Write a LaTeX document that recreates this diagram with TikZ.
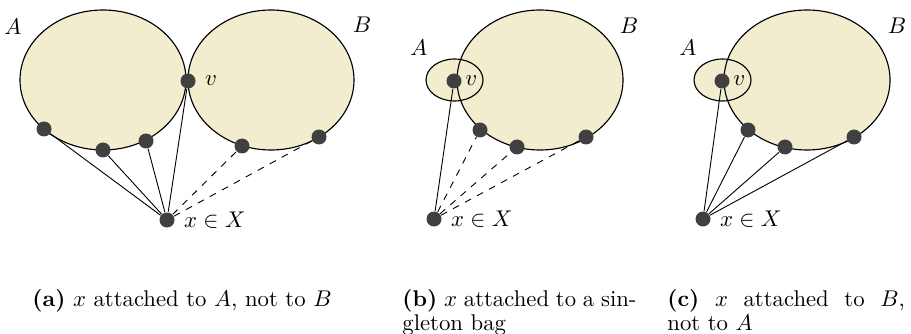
\documentclass[tikz,border=0pt]{standalone}
\usepackage{amsmath,amssymb}
\usetikzlibrary{positioning}
\definecolor{bagfill}{HTML}{F2EDCF}
\definecolor{dotgray}{HTML}{404040}

\begin{document}
\begin{tikzpicture}[x=0.44pt, y=-0.44pt,
  bagline/.style={draw=black, line width=0.5pt},
  vtx/.style={circle, fill=dotgray, inner sep=0pt, minimum size=6.6pt},
  miss/.style={dashed},
  capbox/.style={anchor=north west, inner sep=0pt, align=justify,
    font=\fontsize{10}{10.6}\selectfont}]

\useasboundingbox (0,0) rectangle (911,334);

% --- (a): x attached to A only ---
\coordinate (Aa) at (103,80);
\coordinate (Ba) at (271,80);
\fill[bagfill] (Aa) ellipse (83 and 70);
\fill[bagfill] (Ba) ellipse (83 and 70);
\draw[bagline] (Aa) ellipse (83 and 70);
\draw[bagline] (Ba) ellipse (83 and 70);
\node at (13,27) {$A$};
\node at (362,25) {$B$};

\node[vtx] (va) at (188,81) {};
\node[right=0.5pt of va] {$v$};
\node[vtx] (a1) at (44,129) {};
\node[vtx] (a2) at (103,150) {};
\node[vtx] (a3) at (146,141) {};
\node[vtx] (a4) at (242,146) {};
\node[vtx] (a5) at (319,137) {};
\node[vtx] (xa) at (167,220) {};
\node[right=0.5pt of xa] {$x \in X$};

\draw (xa) -- (a1);
\draw (xa) -- (a2);
\draw (xa) -- (a3);
\draw (xa) -- (va);
\draw[miss] (xa) -- (a4);
\draw[miss] (xa) -- (a5);

\node[anchor=base west, inner sep=0pt] at (32,306)
  {\textbf{(a)} $x$ attached to $A$, not to $B$};

% --- (b): x attached to a singleton bag ---
\coordinate (Ab) at (454.5,80);
\coordinate (Bb) at (540,80);
\fill[bagfill] (Bb) ellipse (83 and 70);
\fill[bagfill] (Ab) ellipse (28.5 and 21);
\draw[bagline] (Bb) ellipse (83 and 70);
\draw[bagline] (Ab) ellipse (28.5 and 21);
\node at (419,48) {$A$};
\node at (629,26) {$B$};

\node[vtx] (vb) at (454,81) {};
\node[right=-2pt of vb] {$v$};
\node[vtx] (b1) at (480,130) {};
\node[vtx] (b2) at (517,147) {};
\node[vtx] (b3) at (586,137) {};
\node[vtx] (xb) at (434,219) {};
\node[right=0.5pt of xb] {$x \in X$};

\draw (xb) -- (vb);
\draw[miss] (xb) -- (b1);
\draw[miss] (xb) -- (b2);
\draw[miss] (xb) -- (b3);

\node[capbox, text width=103pt] at (402,289)
  {\textbf{(b)} $x$ attached to a sin-\linebreak gleton bag};

% --- (c): x attached to B only ---
\coordinate (Ac) at (722.5,80);
\coordinate (Bc) at (807,80);
\fill[bagfill] (Bc) ellipse (83 and 70);
\fill[bagfill] (Ac) ellipse (28.5 and 21);
\draw[bagline] (Bc) ellipse (83 and 70);
\draw[bagline] (Ac) ellipse (28.5 and 21);
\node at (688,48) {$A$};
\node at (897,26) {$B$};

\node[vtx] (vc) at (722,81) {};
\node[right=-2pt of vc] {$v$};
\node[vtx] (c1) at (748,130) {};
\node[vtx] (c2) at (785,147) {};
\node[vtx] (c3) at (854,137) {};
\node[vtx] (xc) at (703,219) {};
\node[right=0.5pt of xc] {$x \in X$};

\draw (xc) -- (vc);
\draw (xc) -- (c1);
\draw (xc) -- (c2);
\draw (xc) -- (c3);

\node[capbox, text width=104.5pt] at (667,289)
  {\textbf{(c)} $x$ attached to $B$,\linebreak not to $A$};

\end{tikzpicture}
\end{document}
